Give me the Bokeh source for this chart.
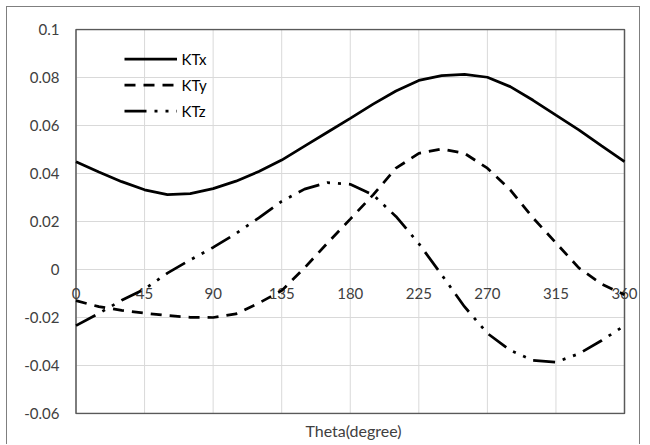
from bokeh.plotting import figure
from bokeh.models import Range1d, Legend, LegendItem, Title
from bokeh.embed import file_html
from bokeh.resources import INLINE
from bokeh.core.properties import value

theta = [0, 15, 30, 45, 60, 75, 90, 105, 120, 135, 150, 165, 180,
         195, 210, 225, 240, 255, 270, 285, 300, 315, 330, 345, 360]
ktx = [0.0449, 0.0406, 0.0366, 0.0332, 0.0312, 0.0316, 0.0337, 0.0368, 0.0408,
       0.0456, 0.0514, 0.0572, 0.0630, 0.0689, 0.0744, 0.0788, 0.0808, 0.0813,
       0.0801, 0.0762, 0.0705, 0.0643, 0.0582, 0.0515, 0.0449]
kty = [-0.0130, -0.0155, -0.0170, -0.0182, -0.0192, -0.0199, -0.0200, -0.0185,
       -0.0140, -0.0088, 0.0007, 0.0110, 0.0210, 0.0311, 0.0422, 0.0484, 0.0502,
       0.0484, 0.0422, 0.0332, 0.0215, 0.0111, 0.0007, -0.0061, -0.0105]
ktz = [-0.0234, -0.0183, -0.0128, -0.0082, -0.0015, 0.0040, 0.0092, 0.0150,
       0.0215, 0.0284, 0.0335, 0.0362, 0.0355, 0.0311, 0.0221, 0.0108, -0.0022,
       -0.0155, -0.0266, -0.0337, -0.0379, -0.0386, -0.0351, -0.0296, -0.0234]

series_names = ["KTx", "KTy", "KTz"]
x_ticks = [0, 45, 90, 135, 180, 225, 270, 315, 360]
x_tick_labels = ["0", "45", "90", "135", "180", "225", "270", "315", "360"]
y_ticks = [-0.06, -0.04, -0.02, 0, 0.02, 0.04, 0.06, 0.08, 0.1]
y_tick_labels = ["-0.06", "-0.04", "-0.02", "0", "0.02", "0.04", "0.06", "0.08", "0.1"]
axis_cross = 0
x_min, x_max = 0, 360
y_min, y_max = -0.06, 0.1
x_title = "Theta(degree)"

FONT = "Lato"
TXT = "#404040"
GRID = "#d9d9d9"

# layout (screen px): data area 548.5 px wide, 384 px tall; frame padded
# so that edge tick labels are not clipped
data_w, data_h = 548.5, 384.0
pad_l, pad_r, pad_v = 8.5, 15.0, 1.0
sx = (x_max - x_min) / data_w
sy = (y_max - y_min) / data_h
x_range = Range1d(x_min - pad_l * sx, x_max + pad_r * sx)
y_range = Range1d(y_min - pad_v * sy, y_max + pad_v * sy)

p = figure(width=634, height=438, output_backend="svg", toolbar_location=None,
           x_range=x_range, y_range=y_range,
           min_border_left=60, min_border_right=2, min_border_top=21,
           min_border_bottom=31)
p.margin = (6, 10, 0, 6)
p.styles = {"border-top": "1px solid #7f7f7f", "border-left": "1px solid #7f7f7f",
            "border-right": "1px solid #7f7f7f"}
p.outline_line_color = None
p.xgrid.visible = False
p.ygrid.visible = False

p.xaxis.visible = False
p.yaxis.ticker = y_ticks
p.yaxis.major_label_overrides = {t: l for t, l in zip(y_ticks, y_tick_labels)}
p.yaxis.axis_line_color = None
p.yaxis.major_tick_line_color = None
p.yaxis.minor_tick_line_color = None
p.yaxis.major_tick_in = 0
p.yaxis.major_tick_out = 0
p.yaxis.major_label_text_font = FONT
p.yaxis.major_label_text_font_size = "15px"
p.yaxis.major_label_text_color = TXT
p.yaxis.major_label_standoff = 8

p.add_layout(Title(text=x_title, align="center", text_font=FONT,
                   text_font_size="16px", text_font_style="normal",
                   text_color=TXT, standoff=8), "below")

# grid lines
p.segment(x0=x_ticks, y0=[y_min] * len(x_ticks), x1=x_ticks,
          y1=[y_max] * len(x_ticks), line_color=GRID, line_width=1)
p.segment(x0=[x_min] * len(y_ticks), y0=y_ticks, x1=[x_max] * len(y_ticks),
          y1=y_ticks, line_color=GRID, line_width=1)
# plot-area frame
p.quad(left=[x_min], right=[x_max], bottom=[y_min], top=[y_max],
       fill_color=None, line_color="#595959", line_width=1.5)

# x tick labels along the y=0 line
p.text(x=x_ticks, y=[axis_cross] * len(x_ticks), text=x_tick_labels,
       text_font=value(FONT), text_font_size="15px", text_color=TXT,
       text_align="center", text_baseline="middle", y_offset=24)

r1 = p.line(theta, ktx, line_color="black", line_width=2.75)
r2 = p.line(theta, kty, line_color="black", line_width=2.75, line_dash="11 8")
r3 = p.line(theta, ktz, line_color="black", line_width=2.75,
            line_dash="22 8 3 8 3 8")

legend = Legend(items=[LegendItem(label=series_names[0], renderers=[r1]),
                       LegendItem(label=series_names[1], renderers=[r2]),
                       LegendItem(label=series_names[2], renderers=[r3])],
                location=(56.5, 291), glyph_width=53, glyph_height=25,
                label_height=25, label_standoff=5, spacing=1, padding=0,
                margin=0, border_line_alpha=0, background_fill_alpha=0,
                label_text_font=FONT, label_text_font_size="15px",
                label_text_color="#000000")
p.add_layout(legend)

open("out.html", "w").write(file_html(p, INLINE))
